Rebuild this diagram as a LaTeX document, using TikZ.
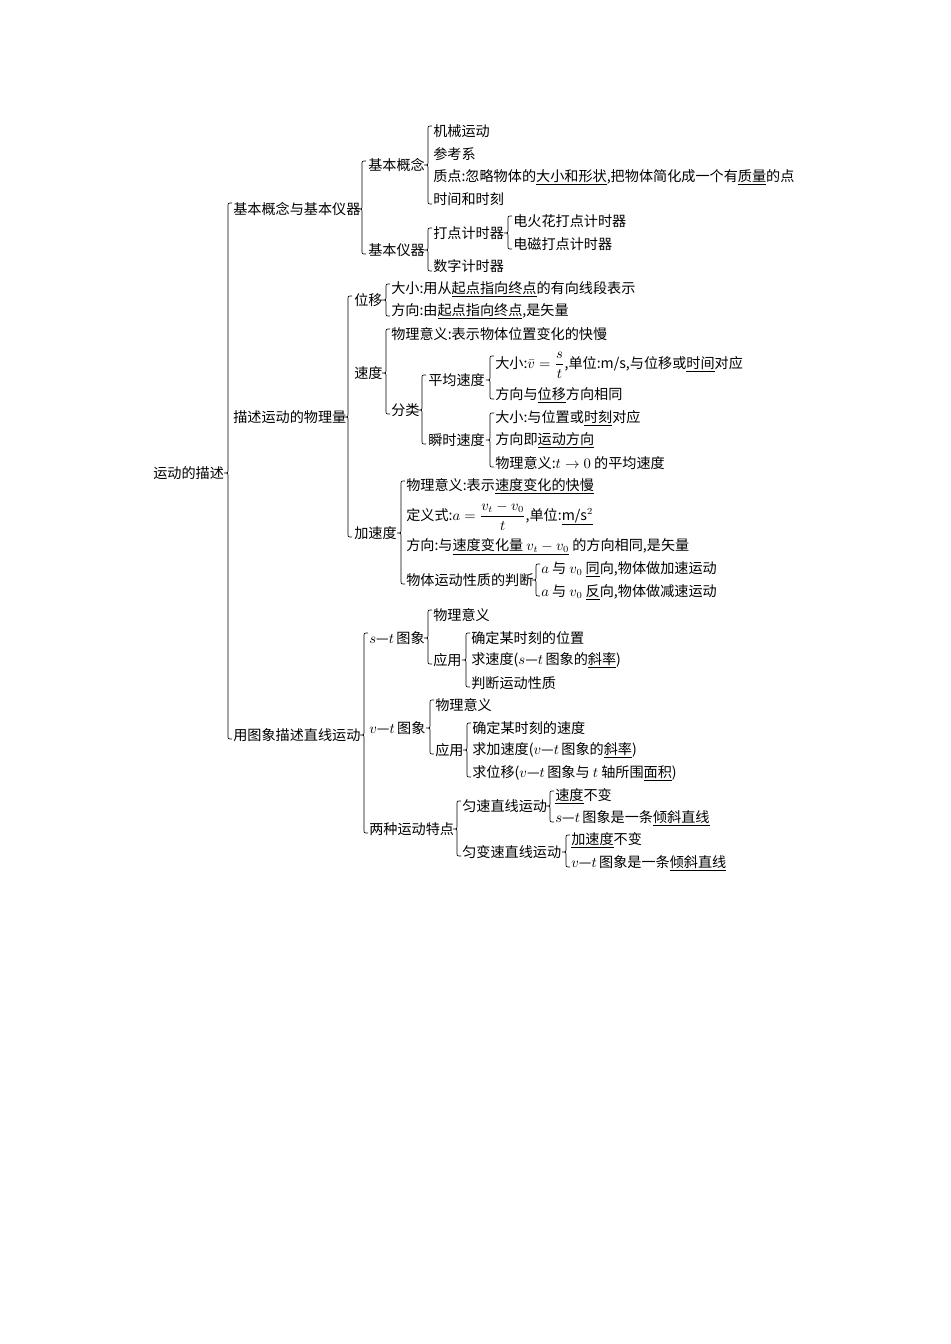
\documentclass[tikz,border=0pt]{standalone}
\usepackage{fontspec}
\setmainfont{Noto Sans CJK SC}
\begin{document}
\begin{tikzpicture}[x=0.75pt,y=-0.75pt,
  t/.style={anchor=west,inner sep=0pt,font=\fontsize{10.6}{12}\selectfont},
  br/.style={line width=0.5pt}]
\useasboundingbox (0,0) rectangle (950,1344);
\newcommand\mybr[4]{\draw[br] (#1+4,#2) .. controls (#1,#2) .. (#1,#2+4) -- (#1,#3-4) .. controls (#1,#3) .. (#1-4,#3) .. controls (#1,#3) .. (#1,#3+4) -- (#1,#4-4) .. controls (#1,#4) .. (#1+4,#4);}
% root
\node[t] (root) at (153,473) {运动的描述};
\mybr{228}{203}{473}{739}
% level 1
\node[t] (a) at (233,209) {基本概念与基本仪器};
\mybr{362}{161}{209}{254}
\node[t] (a1) at (368,165) {基本概念};
\mybr{428}{126}{165}{204}
\node[t] (a11) at (433,131) {机械运动};
\node[t] (a12) at (433,154) {参考系};
\node[t] (a13) at (433,177) {质点:忽略物体的\underline{大小和形状},把物体简化成一个有\underline{质量}的点};
\node[t] (a14) at (433,199) {时间和时刻};
\node[t] (a2) at (368,250) {基本仪器};
\mybr{428}{228}{250}{271}
\node[t] (a21) at (433,233) {打点计时器};
\mybr{508}{216}{233}{249}
\node[t] (a211) at (513,221) {电火花打点计时器};
\node[t] (a212) at (513,244) {电磁打点计时器};
\node[t] (a22) at (433,266) {数字计时器};
% level 2
\node[t] (b) at (233,417) {描述运动的物理量};
\mybr{348}{296}{417}{537}
\node[t] (b1) at (354,300) {位移};
\mybr{386}{284}{300}{316}
\node[t] (b11) at (391,289) {大小:用从\underline{起点指向终点}的有向线段表示};
\node[t] (b12) at (391,311) {方向:由\underline{起点指向终点},是矢量};
\node[t] (b2) at (354,373) {速度};
\mybr{386}{329}{373}{414}
\node[t] (b21) at (391,334) {物理意义:表示物体位置变化的快慢};
\node[t] (b22) at (391,410) {分类};
\mybr{422}{375}{410}{444}
\node[t] (b221) at (428,380) {平均速度};
\mybr{490}{356}{380}{399}
\node[t] (b2211) at (495,365) {大小:$\displaystyle\bar v=\frac{s}{t}$,单位:m/s,与位移或\underline{时间}对应};
\node[t] (b2212) at (495,395) {方向与\underline{位移}方向相同};
\node[t] (b222) at (428,440) {瞬时速度};
\mybr{490}{413}{440}{467}
\node[t] (b2221) at (495,418) {大小:与位置或\underline{时刻}对应};
\node[t] (b2222) at (495,440) {方向即\underline{运动方向}};
\node[t] (b2223) at (495,463) {物理意义:$t\to0$ 的平均速度};
\node[t] (b3) at (354,533) {加速度};
\mybr{401}{481}{533}{584}
\node[t] (b31) at (406,486) {物理意义:表示\underline{速度变化的快慢}};
\node[t] (b32) at (406,516) {定义式:$\displaystyle a=\frac{v_t-v_0}{t}$,单位:\underline{m/s$^2$}};
\node[t] (b33) at (406,547) {方向:与\underline{速度变化量 $v_t-v_0$} 的方向相同,是矢量};
\node[t] (b34) at (406,580) {物体运动性质的判断};
\mybr{536}{564}{580}{596}
\node[t] (b341) at (541,569) {$a$ 与 $v_0$ \underline{同}向,物体做加速运动};
\node[t] (b342) at (541,592) {$a$ 与 $v_0$ \underline{反}向,物体做减速运动};
% level 3
\node[t] (c) at (233,735) {用图象描述直线运动};
\mybr{364}{633}{735}{833}
\node[t] (c1) at (369,638) {$s$—$t$\,图象};
\mybr{428}{610}{638}{664}
\node[t] (c11) at (433,615) {物理意义};
\node[t] (c12) at (433,660) {应用};
\mybr{466}{633}{660}{687}
\node[t] (c121) at (471,638) {确定某时刻的位置};
\node[t] (c122) at (471,660) {求速度($s$—$t$\,图象的\underline{斜率})};
\node[t] (c123) at (471,683) {判断运动性质};
\node[t] (c2) at (369,728) {$v$—$t$\,图象};
\mybr{430}{700}{728}{754}
\node[t] (c21) at (435,705) {物理意义};
\node[t] (c22) at (435,750) {应用};
\mybr{467}{723}{750}{777}
\node[t] (c221) at (472,728) {确定某时刻的速度};
\node[t] (c222) at (472,750) {求加速度($v$—$t$\,图象的\underline{斜率})};
\node[t] (c223) at (472,773) {求位移($v$—$t$\,图象与 $t$ 轴所围\underline{面积})};
\node[t] (c3) at (369,829) {两种运动特点};
\mybr{457}{801}{829}{856}
\node[t] (c31) at (462,806) {匀速直线运动};
\mybr{550}{791}{806}{822}
\node[t] (c311) at (555,796) {\underline{速度}不变};
\node[t] (c312) at (555,818) {$s$—$t$\,图象是一条\underline{倾斜直线}};
\node[t] (c32) at (462,852) {匀变速直线运动};
\mybr{566}{835}{852}{867}
\node[t] (c321) at (571,840) {\underline{加速度}不变};
\node[t] (c322) at (571,863) {$v$—$t$\,图象是一条\underline{倾斜直线}};
\end{tikzpicture}
\end{document}
